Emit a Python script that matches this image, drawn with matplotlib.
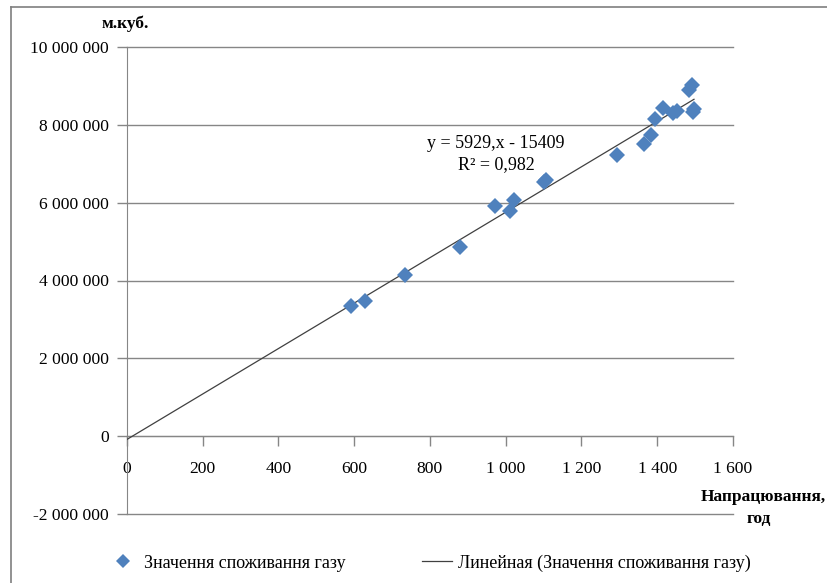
import matplotlib
matplotlib.use("Agg")
import matplotlib.pyplot as plt
from matplotlib.lines import Line2D
import numpy as np

# ---- data ----
hours = [591, 629, 735, 879, 971, 1012, 1023, 1100, 1105, 1295, 1365, 1384, 1395,
         1416, 1442, 1452, 1494, 1497, 1485, 1492]
gas = [3340000, 3480000, 4130000, 4860000, 5920000, 5790000, 6060000, 6520000, 6580000,
       7220000, 7510000, 7740000, 8150000, 8430000, 8300000, 8360000, 8340000, 8400000,
       8900000, 9030000]
x_ticks = [0, 200, 400, 600, 800, 1000, 1200, 1400, 1600]
x_tick_labels = ["0", "200", "400", "600", "800", "1 000", "1 200", "1 400", "1 600"]
y_ticks = [-2000000, 0, 2000000, 4000000, 6000000, 8000000, 10000000]
y_tick_labels = ["-2 000 000", "0", "2 000 000", "4 000 000", "6 000 000", "8 000 000", "10 000 000"]
series_name = "Значення споживання газу"
trend_name = "Линейная (Значення споживання газу)"
equation_text = "y = 5929,x - 15409\nR² = 0,982"
y_title = "м.куб."
x_title = "Напрацювання,"
x_title2 = "год"

plt.rcParams['font.family'] = ['Liberation Serif', 'DejaVu Serif']
W, H = 827, 583
fig = plt.figure(figsize=(W / 100, H / 100), dpi=100)
fig.patch.set_facecolor('white')

L, R, T, B = 127, 733, 47, 514
ax = fig.add_axes([L / W, 1 - B / H, (R - L) / W, (B - T) / H])
ax.set_xlim(0, 1600)
ax.set_ylim(-2000000, 10000000)

grey = '#868686'
ax.set_yticks(y_ticks)
ax.set_yticklabels(y_tick_labels)
ax.set_xticks(x_ticks)
ax.set_xticklabels(x_tick_labels)
ax.grid(axis='y', color=grey, linewidth=1.0)
for gl in ax.get_ygridlines():
    gl.set_clip_on(False)
ax.set_axisbelow(True)
for s in ['top', 'right']:
    ax.spines[s].set_visible(False)
ax.spines['bottom'].set_position(('data', 0))
ax.spines['left'].set_color(grey)
ax.spines['bottom'].set_color(grey)
ax.tick_params(axis='both', direction='out', length=7, color=grey, labelsize=12.6,
               labelcolor='black', width=1)
ax.tick_params(axis='x', pad=11)
ax.tick_params(axis='y', pad=6)

# trend line from least squares fit
k, b = np.polyfit(hours, gas, 1)
xt = np.array([0, max(hours)])
ax.plot(xt, k * xt + b, color='#404040', linewidth=0.9, zorder=3)

ax.plot(hours, gas, linestyle='none', marker='D', markersize=8.3,
        color='#4F81BD', markeredgewidth=0, zorder=4, clip_on=False)

ax.text((496 - L) / (R - L), (B - 154) / (B - T), equation_text, transform=ax.transAxes,
        ha='center', va='center', fontsize=13, multialignment='center', linespacing=1.3)

fig.text(125 / W, 1 - 24 / H, y_title, ha='center', va='center', fontsize=12.5, fontweight='bold')
fig.text(826 / W, 1 - 497 / H, x_title, ha='right', va='center', fontsize=12.5, fontweight='bold')
fig.text(759 / W, 1 - 519 / H, x_title2, ha='center', va='center', fontsize=12.5, fontweight='bold')

# legend
h1 = Line2D([], [], linestyle='none', marker='D', markersize=7, color='#4F81BD', markeredgewidth=0)
h2 = Line2D([], [], color='#404040', linewidth=0.9)
fig.legend([h1, h2], [series_name, trend_name], loc='center left', ncol=2,
           bbox_to_anchor=(108 / W, 1 - 563 / H), frameon=False, fontsize=13,
           handlelength=1.7, columnspacing=4.2, handletextpad=0.3, borderpad=0,
           borderaxespad=0)

# outer frame
fig.add_artist(Line2D([11 / W, 11 / W], [0, 1 - 7 / H], transform=fig.transFigure,
                      color='#7f7f7f', linewidth=1.2))
fig.add_artist(Line2D([11 / W, 1], [1 - 7 / H, 1 - 7 / H], transform=fig.transFigure,
                      color='#7f7f7f', linewidth=1.2))

fig.savefig('out.png', dpi=100)
